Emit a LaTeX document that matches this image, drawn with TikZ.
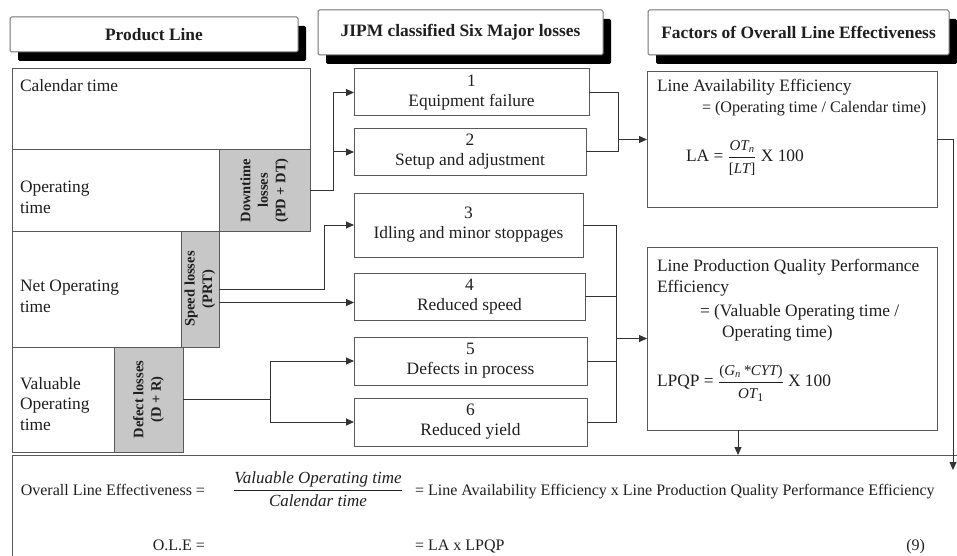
\documentclass[tikz,border=0pt]{standalone}
\usepackage{amsmath}
\usepackage{fontspec}
\setmainfont{Liberation Serif}
\usetikzlibrary{arrows.meta,shadows}
\newcommand{\fsz}[2]{\fontsize{#1}{#2}\selectfont}
\newcommand{\ratio}[2]{\genfrac{}{}{0.8pt}{0}{#1}{#2}}

\begin{document}
\begin{tikzpicture}[x=1pt,y=-1pt,
  every node/.style={inner sep=0pt, outer sep=0pt, text=black!88},
  hdr/.style={draw=black!55, line width=1pt, fill=white, rounded corners=1.5pt,
    font=\fsz{17.4}{20}\bfseries,
    drop shadow={shadow xshift=8pt, shadow yshift=-9pt, fill=black, opacity=1}},
  cell/.style={draw=black!65, line width=1pt, fill=white},
  lossfill/.style={draw=black!65, line width=1pt, fill=black!22},
  vlabel/.style={rotate=90, align=center, font=\fsz{14.5}{17.5}\bfseries},
  rowtext/.style={anchor=west, align=left, font=\fsz{17.4}{21}},
  txt/.style={anchor=base west, font=\fsz{17.4}{20}},
  losstype/.style={draw=black!65, line width=1pt, fill=white, align=center,
    font=\fsz{17.4}{20}},
  btxt/.style={font=\fsz{16}{19}},
  conn/.style={draw=black!80, line width=1pt},
  arr/.style={conn, -{Triangle[length=8pt,width=7pt]}}]

\useasboundingbox (0,0) rectangle (957,556);
\fill[white] (0,0) rectangle (957,556);
\clip (0,0) rectangle (957,556);

% column headers
\node[hdr, minimum width=288, minimum height=35] (h1) at (154,34.5) {Product Line};
\node[hdr, minimum width=285, minimum height=45] (h2) at (460.5,32.5) {JIPM classified Six Major losses};
\node[hdr, minimum width=301, minimum height=45] (h3) at (798.5,32.5) {Factors of Overall Line Effectiveness};

% product line: time rows
\node[cell, minimum width=298, minimum height=81] (cal) at (161,109.5) {};
\node[cell, minimum width=298, minimum height=81] (op) at (161,190.5) {};
\node[cell, minimum width=207, minimum height=116] (net) at (115.5,289) {};
\node[cell, minimum width=171, minimum height=105] (val) at (97.5,399.5) {};

\node[txt] (calt) at (20,92) {Calendar time};
\node[rowtext] (opt) at (20,197) {Operating\\time};
\node[rowtext] (nett) at (20,296) {Net Operating\\time};
\node[rowtext, font=\fsz{17.4}{20.5}] (valt) at (20,404) {Valuable\\Operating\\time};

% loss blocks
\node[lossfill, minimum width=91, minimum height=81] (dt) at (264.5,190.5) {};
\node[vlabel] (dtl) at (dt.center) {Downtime\\losses\\(PD + DT)};
\node[lossfill, minimum width=38, minimum height=116] (sp) at (200,289) {};
\node[vlabel] (spl) at (sp.center) {Speed losses\\(PRT)};
\node[lossfill, minimum width=69, minimum height=105] (df) at (148.5,399.5) {};
\node[vlabel] (dfl) at (df.center) {Defect losses\\(D + R)};

% six major losses
\node[losstype, minimum width=235, minimum height=47] (l1) at (471.5,92.5) {1\\Equipment failure};
\node[losstype, minimum width=232, minimum height=46] (l2) at (470,152) {2\\Setup and adjustment};
\node[losstype, minimum width=229, minimum height=64] (l3) at (468.5,225) {3\\Idling and minor stoppages};
\node[losstype, minimum width=231, minimum height=47] (l4) at (469.5,296.5) {4\\Reduced speed};
\node[losstype, minimum width=233, minimum height=48] (l5) at (470.5,361) {5\\Defects in process};
\node[losstype, minimum width=233, minimum height=48] (l6) at (470.5,422) {6\\Reduced yield};

% efficiency factors
\node[cell, minimum width=290, minimum height=135] (la) at (792,139.5) {};
\node[txt] (la1) at (657,92) {Line Availability Efficiency};
\node[txt, font=\fsz{16.1}{20}] (la2) at (702,113) {= (Operating time / Calendar time)};
\node[anchor=west, font=\fsz{17.4}{20}] (la3) at (686,158)
  {LA = $\ratio{\mbox{\fsz{15}{15}\itshape OT\textsubscript{n}}}{\mbox{\fsz{15}{15}[\itshape LT\upshape]}}$ X 100};

\node[cell, minimum width=290, minimum height=183] (lp) at (792,338.5) {};
\node[txt] (lp1) at (657,271) {Line Production Quality Performance};
\node[txt] (lp2) at (657,292) {Efficiency};
\node[txt] (lp3) at (700,316) {= (Valuable Operating time /};
\node[txt] (lp4) at (722,337) {Operating time)};
\node[anchor=west, font=\fsz{17.4}{20}] (lp5) at (657,383)
  {LPQP = $\ratio{\mbox{\fsz{15}{15}(\itshape G\textsubscript{n}\,*CYT\upshape)}}{\mbox{\fsz{15}{15}\itshape OT\upshape\fsz{17}{17}\textsubscript{1}}}$ X 100};

% overall line effectiveness
\node[cell, minimum width=968, minimum height=130] (ole) at (496,520) {};
\node[btxt, anchor=base east] (o1) at (205,495) {Overall Line Effectiveness =};
\node[btxt] (o2) at (318,489)
  {$\ratio{\mbox{\fsz{17}{17}\itshape Valuable Operating time}}{\mbox{\fsz{17}{17}\itshape Calendar time}}$};
\node[btxt, anchor=base west] (o3) at (415,495) {= Line Availability Efficiency x Line Production Quality Performance Efficiency};
\node[btxt, anchor=base east] (o4) at (205,550) {O.L.E =};
\node[btxt, anchor=base west] (o5) at (415,550) {= LA x LPQP};
\node[btxt, anchor=base east] (o6) at (925,550) {(9)};

% losses -> six major losses
\coordinate (j1) at (333,0);
\draw[conn] (dt.east) -- (dt.east -| j1);
\draw[arr] (dt.east -| j1) |- (l1.west);
\draw[arr] (dt.east -| j1) |- (l2.west);

\coordinate (j2) at (324,0);
\draw[arr] (sp.east) -- (sp.east -| j2) |- (l3.west);
\draw[arr] ([yshift=-6pt]sp.east |- l4.west) -- ([yshift=-6pt]l4.west);

\coordinate (j3) at (270,0);
\draw[conn] (df.east) -- (df.east -| j3);
\draw[arr] (df.east -| j3) |- (l5.west);
\draw[arr] (df.east -| j3) |- (l6.west);

% six major losses -> factors
\coordinate (b1) at (618,0);
\draw[conn] (l1.east) -| (b1 |- l2.east) -- (l2.east);
\draw[arr] (b1 |- la.west) -- (la.west);

\coordinate (b2) at (616,0);
\draw[conn] (l3.east) -| (b2 |- l6.east) -- (l6.east);
\draw[conn] (l4.east) -- (l4.east -| b2);
\draw[conn] (l5.east) -- (l5.east -| b2);
\draw[arr] (b2 |- lp.west) -- (lp.west);

% factors -> overall line effectiveness
\coordinate (rt) at (953,470);
\draw[arr] (la.east) -| (rt);
\draw[arr] ([xshift=-54pt]lp.south) -- ([xshift=-54pt]lp.south |- ole.north);
\end{tikzpicture}
\end{document}
